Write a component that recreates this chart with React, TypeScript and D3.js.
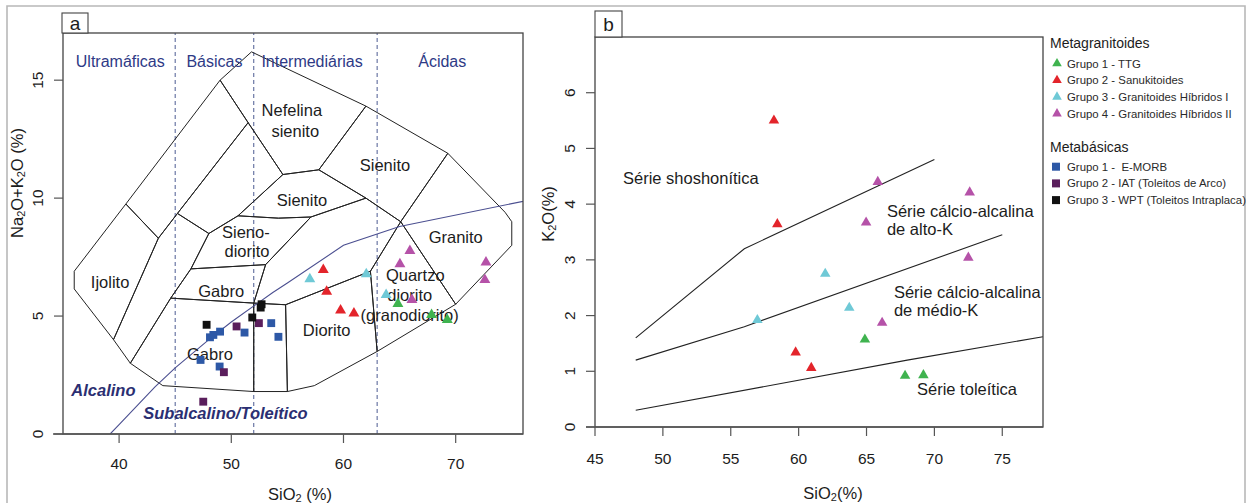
import React from "react";
import * as d3 from "d3";

type P = [number, number];

// ---------- Panel a: TAS (Cox et al. 1979 / Wilson 1989) ----------
const aTicksX = [40, 50, 60, 70];
const aTicksY = [0, 5, 10, 15];
const dividers = [45, 52, 63];
const groupNames = ["Ultramáficas", "Básicas", "Intermediárias", "Ácidas"];
const groupX = [40.1, 48.5, 57.2, 68.8];

// boundary vertices (SiO2, Na2O+K2O)
const vPeak: P = [51.8, 16.2];
const vO: P = [49.0, 15.0];
const vB: P = [62.0, 13.9];
const vC: P = [69.3, 11.9];
const vD: P = [74.4, 9.4];
const vE: P = [75.0, 9.0];
const vF: P = [75.0, 8.0];
const vG: P = [70.0, 5.5];
const vH: P = [63.0, 3.5];
const vI: P = [57.4, 2.05];
const vJ: P = [55.0, 1.8];
const vK: P = [52.0, 1.8];
const vL: P = [43.9, 2.05];
const vM: P = [41.0, 3.0];
const vN: P = [39.5, 4.0];
const vQ: P = [36.0, 6.15];
const vR: P = [36.0, 6.9];
const vS: P = [40.6, 9.75];
const vT: P = [43.5, 8.3];
const vU: P = [45.2, 9.35];
const vV: P = [51.5, 13.2];
const vW: P = [54.6, 11.0];
const vX: P = [57.8, 11.2];
const vY: P = [62.0, 10.0];
const vZ: P = [65.1, 9.0];
const vSD1: P = [48.0, 8.5];
const vSD2: P = [50.6, 9.25];
const vSD3: P = [54.2, 9.15];
const vSD4: P = [57.1, 9.2];
const vGA: P = [46.4, 7.0];
const vGU: P = [53.06, 7.18];
const vGL: P = [44.6, 5.76];
const vK2: P = [52.0, 5.55];
const vDT: P = [54.84, 5.48];
const vQT: P = [62.4, 6.9];

const fieldPolys: P[][] = [
  [vS, vT, vN, vQ, vR],
  [vS, vO, vV, vU, vT],
  [vT, vU, vSD1, vGA, vGL, vM, vN],
  [vU, vV, vW, vSD2, vSD1],
  [vO, vPeak, vB, vX, vW, vV],
  [vW, vX, vY, vSD4, vSD3, vSD2],
  [vSD1, vSD2, vSD3, vSD4, vGU, vGA],
  [vGA, vGU, vK2, vGL],
  [vGL, vK2, vK, vL, vM],
  [vK2, vDT, vJ, vK],
  [vGU, vSD4, vY, vZ, vQT, vDT, vK2],
  [vDT, vQT, vH, vI, vJ],
  [vZ, vG, vH, vQT],
  [vZ, vC, vD, vE, vF, vG],
  [vX, vB, vC, vZ, vY],
];

const fieldLabels = ["Nefelina", "sienito", "Sienito", "Sienito", "Sieno-", "diorito", "Ijolito", "Gabro", "Gabro", "Granito", "Quartzo", "diorito", "(granodiorito)", "Diorito"];
const fieldLabelX = [55.4, 55.7, 63.7, 56.3, 51.3, 51.4, 39.2, 49.1, 48.1, 70.0, 66.4, 65.9, 65.9, 58.5];
const fieldLabelY = [13.74, 12.86, 11.4, 9.92, 8.58, 7.77, 6.46, 6.08, 3.38, 8.37, 6.74, 5.89, 5.04, 4.41];

// Irvine & Baragar (1971) alkaline / subalkaline divide
const irvineX = [39.2, 40, 43.2, 45, 48, 50, 53.7, 55, 60, 65, 77.4];
const irvineY = [0, 0.4, 2.0, 2.8, 4.0, 4.75, 6.0, 6.4, 8.0, 8.8, 10.0];

// samples, panel a
const ttgA: P[] = [[64.85, 5.52], [67.85, 5.05], [69.25, 4.84]];
const sanA: P[] = [[58.2, 6.96], [58.5, 6.04], [59.74, 5.24], [60.93, 5.12]];
const hib1A: P[] = [[57.0, 6.57], [62.03, 6.78], [63.8, 5.9]];
const hib2A: P[] = [[65.92, 7.77], [65.03, 7.2], [66.1, 5.69], [72.7, 7.28], [72.6, 6.54]];
const emorbA: P[] = [[48.1, 4.1], [48.4, 4.2], [49.0, 4.34], [51.18, 4.3], [53.56, 4.7], [54.2, 4.12], [47.26, 3.14], [48.96, 2.86]];
const iatA: P[] = [[50.47, 4.56], [52.46, 4.7], [49.34, 2.62], [47.5, 1.37]];
const wptA: P[] = [[47.8, 4.63], [51.87, 4.94], [52.62, 5.36], [52.7, 5.5]];

// ---------- Panel b: K2O vs SiO2 (Peccerillo & Taylor 1976) ----------
const bTicksX = [45, 50, 55, 60, 65, 70, 75];
const bTicksY = [0, 1, 2, 3, 4, 5, 6];
const shoLineX = [48, 56, 70];
const shoLineY = [1.6, 3.2, 4.8];
const highKLineX = [48, 56, 75];
const highKLineY = [1.2, 1.8, 3.45];
const thoLineX = [48, 68, 78];
const thoLineY = [0.3, 1.2, 1.62];
const seriesLabels = ["Série shoshonítica", "Série cálcio-alcalina", "de alto-K", "Série cálcio-alcalina", "de médio-K", "Série toleítica"];
const seriesLabelX = [47.06, 66.5, 66.5, 67.02, 67.02, 68.72];
const seriesLabelY = [4.47, 3.88, 3.55, 2.42, 2.1, 0.68];

const ttgB: P[] = [[64.88, 1.57], [67.84, 0.92], [69.19, 0.93]];
const sanB: P[] = [[58.18, 5.5], [58.43, 3.64], [59.78, 1.34], [60.93, 1.06]];
const hib1B: P[] = [[61.96, 2.75], [56.96, 1.92], [63.73, 2.14]];
const hib2B: P[] = [[65.83, 4.4], [64.97, 3.67], [72.6, 4.21], [72.5, 3.04], [66.15, 1.87]];

// legend
const granitoidNames = ["Grupo 1 - TTG", "Grupo 2 - Sanukitoides", "Grupo 3 - Granitoides Híbridos I", "Grupo 4 - Granitoides Híbridos II"];
const granitoidColors = ["#3fb34f", "#e3242b", "#6fc9d6", "#b552a8"];
const basicNames = ["Grupo 1 -  E-MORB", "Grupo 2 - IAT (Toleitos de Arco)", "Grupo 3 - WPT (Toleitos Intraplaca)"];
const basicColors = ["#2d58a6", "#5a1e5c", "#111111"];

const FONT = "Liberation Sans, Arial, Helvetica, sans-serif";
const triPath = d3.symbol(d3.symbolTriangle).size(52)() as string;
const triPathB = d3.symbol(d3.symbolTriangle).size(48)() as string;
const sqPath = d3.symbol(d3.symbolSquare).size(62)() as string;

export default function App() {
  const xA = d3.scaleLinear().domain([35, 76]).range([63, 523]);
  const yA = d3.scaleLinear().domain([0, 17]).range([434, 33]);
  const xB = d3.scaleLinear().domain([45, 78]).range([595, 1043]);
  const yB = d3.scaleLinear().domain([0, 7]).range([427, 37]);

  const polyLineA = d3.line<P>().x((d) => xA(d[0])).y((d) => yA(d[1]));
  const polyLineB = d3.line<P>().x((d) => xB(d[0])).y((d) => yB(d[1]));
  const zip = (xs: number[], ys: number[]): P[] => xs.map((x, i) => [x, ys[i]] as P);

  const axisColor = "#555";
  const textColor = "#1c1c1c";
  const blueText = "#2e3a86";

  const markersA = [
    { d: ttgA, c: granitoidColors[0], s: triPath },
    { d: sanA, c: granitoidColors[1], s: triPath },
    { d: hib1A, c: granitoidColors[2], s: triPath },
    { d: hib2A, c: granitoidColors[3], s: triPath },
    { d: emorbA, c: basicColors[0], s: sqPath },
    { d: iatA, c: basicColors[1], s: sqPath },
    { d: wptA, c: basicColors[2], s: sqPath },
  ];
  const markersB = [
    { d: ttgB, c: granitoidColors[0] },
    { d: sanB, c: granitoidColors[1] },
    { d: hib1B, c: granitoidColors[2] },
    { d: hib2B, c: granitoidColors[3] },
  ];

  return (
    <svg width={1252} height={503} style={{ position: "absolute", left: 0, top: 0, background: "#fff" }} fontFamily={FONT}>
      <defs>
        <clipPath id="clipA">
          <rect x={63} y={33} width={460} height={401} />
        </clipPath>
        <clipPath id="clipB">
          <rect x={595} y={37} width={448} height={390} />
        </clipPath>
      </defs>
      <rect x={0} y={0} width={1252} height={503} fill="#fff" />
      {/* outer frame */}
      <path d="M7,503 V6 H1245 V503" fill="none" stroke="#b8b8b8" strokeWidth={1.6} />

      {/* ================= Panel a ================= */}
      <g>
        {dividers.map((v) => (
          <line key={v} x1={xA(v)} x2={xA(v)} y1={yA(0)} y2={yA(17)} stroke="#5d6a9c" strokeWidth={1.1} strokeDasharray="4,3" />
        ))}
        {fieldPolys.map((p, i) => (
          <path key={i} d={polyLineA(p) + "Z"} fill="none" stroke="#222" strokeWidth={1} strokeLinejoin="round" />
        ))}
        <path d={polyLineA(zip(irvineX, irvineY)) as string} fill="none" stroke="#4b4f90" strokeWidth={1.1} clipPath="url(#clipA)" />
        {groupNames.map((g, i) => (
          <text key={g} x={xA(groupX[i])} y={yA(15.81)} textAnchor="middle" dominantBaseline="central" fontSize={16} fill={blueText}>{g}</text>
        ))}
        {fieldLabels.map((t, i) => (
          <text key={i} x={xA(fieldLabelX[i])} y={yA(fieldLabelY[i])} textAnchor="middle" dominantBaseline="central" fontSize={16.5} fill={textColor}>{t}</text>
        ))}
        <text x={xA(38.6)} y={yA(1.87)} textAnchor="middle" dominantBaseline="central" fontSize={16.5} fontWeight="bold" fontStyle="italic" fill="#2b2f72">Alcalino</text>
        <text x={xA(49.48)} y={yA(0.9)} textAnchor="middle" dominantBaseline="central" fontSize={16.5} fontWeight="bold" fontStyle="italic" fill="#2b2f72">Subalcalino/Toleítico</text>

        {markersA.map((m, k) =>
          m.d.map((d, i) => (
            <path key={k + "-" + i} d={m.s} transform={`translate(${xA(d[0])},${yA(d[1])})`} fill={m.c} />
          ))
        )}

        {/* box */}
        <rect x={63} y={33} width={460} height={401} fill="none" stroke="#444" strokeWidth={1.3} />
        <line x1={53} x2={523} y1={434} y2={434} stroke={axisColor} strokeWidth={1.3} />
        {aTicksX.map((t) => (
          <g key={t}>
            <line x1={xA(t)} x2={xA(t)} y1={434} y2={443} stroke={axisColor} strokeWidth={1.2} />
            <text x={xA(t)} y={463} textAnchor="middle" dominantBaseline="central" fontSize={15.5} fill={textColor}>{t}</text>
          </g>
        ))}
        {aTicksY.map((t) => (
          <g key={t}>
            <line x1={54} x2={63} y1={yA(t)} y2={yA(t)} stroke={axisColor} strokeWidth={1.2} />
            <text transform={`translate(37,${yA(t)}) rotate(-90)`} textAnchor="middle" dominantBaseline="central" fontSize={15.5} fill={textColor}>{t}</text>
          </g>
        ))}
        <text transform="translate(17,183) rotate(-90)" textAnchor="middle" dominantBaseline="central" fontSize={16.5} fill={textColor}>
          Na<tspan fontSize={11} dy={4}>2</tspan><tspan dy={-4}>O+K</tspan><tspan fontSize={11} dy={4}>2</tspan><tspan dy={-4}>O (%)</tspan>
        </text>
        <text x={300} y={494} textAnchor="middle" dominantBaseline="central" fontSize={16.5} fill={textColor}>
          SiO<tspan fontSize={11} dy={4}>2</tspan><tspan dy={-4}> (%)</tspan>
        </text>
        <rect x={62} y={13} width={26} height={20} fill="#fff" stroke="#444" strokeWidth={1.1} />
        <text x={75} y={23.5} textAnchor="middle" dominantBaseline="central" fontSize={19} fill={textColor}>a</text>
      </g>

      {/* ================= Panel b ================= */}
      <g>
        <g clipPath="url(#clipB)">
          <path d={polyLineB(zip(shoLineX, shoLineY)) as string} fill="none" stroke="#222" strokeWidth={1.1} />
          <path d={polyLineB(zip(highKLineX, highKLineY)) as string} fill="none" stroke="#222" strokeWidth={1.1} />
          <path d={polyLineB(zip(thoLineX, thoLineY)) as string} fill="none" stroke="#222" strokeWidth={1.1} />
        </g>
        {seriesLabels.map((t, i) => (
          <text key={i} x={xB(seriesLabelX[i])} y={yB(seriesLabelY[i])} dominantBaseline="central" fontSize={16.5} fill={textColor}>{t}</text>
        ))}
        {markersB.map((m, k) =>
          m.d.map((d, i) => (
            <path key={k + "-" + i} d={triPathB} transform={`translate(${xB(d[0])},${yB(d[1])})`} fill={m.c} />
          ))
        )}
        <rect x={595} y={37} width={448} height={390} fill="none" stroke="#444" strokeWidth={1.3} />
        <line x1={586} x2={1043} y1={427} y2={427} stroke={axisColor} strokeWidth={1.3} />
        {bTicksX.map((t) => (
          <g key={t}>
            <line x1={xB(t)} x2={xB(t)} y1={427} y2={436} stroke={axisColor} strokeWidth={1.2} />
            <text x={xB(t)} y={458} textAnchor="middle" dominantBaseline="central" fontSize={15.5} fill={textColor}>{t}</text>
          </g>
        ))}
        {bTicksY.map((t) => (
          <g key={t}>
            <line x1={586} x2={595} y1={yB(t)} y2={yB(t)} stroke={axisColor} strokeWidth={1.2} />
            <text transform={`translate(569,${yB(t)}) rotate(-90)`} textAnchor="middle" dominantBaseline="central" fontSize={15.5} fill={textColor}>{t}</text>
          </g>
        ))}
        <text transform="translate(548,214) rotate(-90)" textAnchor="middle" dominantBaseline="central" fontSize={16.5} fill={textColor}>
          K<tspan fontSize={11} dy={4}>2</tspan><tspan dy={-4}>O(%)</tspan>
        </text>
        <text x={833} y={493} textAnchor="middle" dominantBaseline="central" fontSize={16.5} fill={textColor}>
          SiO<tspan fontSize={11} dy={4}>2</tspan><tspan dy={-4}>(%)</tspan>
        </text>
        <rect x={595} y={11} width={27} height={26} fill="#fff" stroke="#444" strokeWidth={1.1} />
        <text x={608.5} y={24} textAnchor="middle" dominantBaseline="central" fontSize={19} fill={textColor}>b</text>
      </g>

      {/* ================= Legend ================= */}
      <g>
        <text x={1050} y={43} dominantBaseline="central" fontSize={14} fill={textColor}>Metagranitoides</text>
        {granitoidNames.map((n, i) => (
          <g key={n}>
            <path d={d3.symbol(d3.symbolTriangle).size(40)() as string} transform={`translate(1057,${63.5 + i * 16.7})`} fill={granitoidColors[i]} />
            <text x={1067} y={63.5 + i * 16.7} dominantBaseline="central" fontSize={11.4} fill="#2a2a2a">{n}</text>
          </g>
        ))}
        <text x={1050} y={147} dominantBaseline="central" fontSize={14} fill={textColor}>Metabásicas</text>
        {basicNames.map((n, i) => (
          <g key={n}>
            <rect x={1052} y={166.7 + i * 16.7 - 4} width={8} height={8} fill={basicColors[i]} />
            <text x={1067} y={166.7 + i * 16.7} dominantBaseline="central" fontSize={11.4} fill="#2a2a2a" style={{ whiteSpace: "pre" }}>{n}</text>
          </g>
        ))}
      </g>
    </svg>
  );
}
